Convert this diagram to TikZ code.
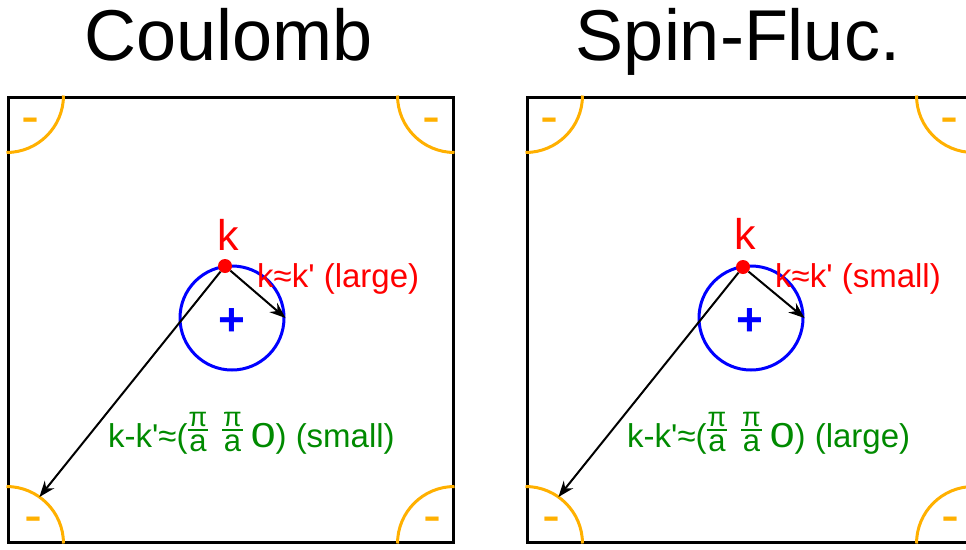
\documentclass[tikz,border=0pt]{standalone}
\usepackage{fontspec}
\setmainfont{Liberation Sans}
\usepackage{graphicx}
\usetikzlibrary{arrows.meta, positioning, calc}
\definecolor{fsorange}{HTML}{FFB000}
\definecolor{fsred}{HTML}{FF0000}
\definecolor{fsblue}{HTML}{0000FF}
\definecolor{fsgreen}{HTML}{008A00}
% pi over a, stacked by hand
\newcommand{\pia}{\raisebox{-4pt}{\vbox{\offinterlineskip\halign{\hskip1pt\hfil##\hfil\hskip1pt\cr
    \fontsize{27}{27}\selectfont π\cr
    \noalign{\kern3pt\hrule height 1.5pt\kern3.5pt}
    \fontsize{31}{31}\selectfont a\cr}}}}
\newcommand{\widezero}{\scalebox{1.35}[1.05]{0}}

\begin{document}
\begin{tikzpicture}[
        x=1pt, y=-1pt,
        title/.style={font=\fontsize{72}{72}\selectfont, inner sep=0pt, anchor=base},
        zone/.style={
            rectangle,
            draw=black,
            line width=3pt,
            minimum width=445pt,
            minimum height=445pt,
            inner sep=0pt
        },
        pocket/.style={draw=fsorange, line width=3pt},
        sign/.style={text=fsorange, font=\fontsize{54}{54}\selectfont, inner sep=0pt, anchor=base},
        fermi/.style={circle, draw=fsblue, line width=3pt, minimum size=104pt, inner sep=0pt},
        plus/.style={text=fsblue, font=\bfseries\fontsize{46}{46}\selectfont, inner sep=0pt, anchor=base},
        kpoint/.style={circle, fill=fsred, minimum size=14pt, inner sep=0pt},
        klabel/.style={text=fsred, font=\fontsize{43}{43}\selectfont, inner sep=0pt, anchor=base},
        nearq/.style={text=fsred, font=\fontsize{33}{33}\selectfont, inner sep=0pt, anchor=base west},
        farq/.style={text=fsgreen, font=\fontsize{33}{33}\selectfont, inner sep=0pt, anchor=base west},
        arrow/.style={-{Stealth[length=16pt, width=12pt]}, line width=2pt, draw=black}
    ]
        \useasboundingbox (0,0) rectangle (966,549);
        \clip (0,0) rectangle (966,549);

        % Coulomb panel
        \node[title] (ctitle) at (229,60) {Coulomb};
        \node[zone] (cbox) at (230.5,319.5) {};
        \draw[pocket] (cbox.north west) ++(57,0) arc[start angle=0, end angle=90, radius=57];
        \draw[pocket] (cbox.north east) ++(-57,0) arc[start angle=180, end angle=90, radius=57];
        \draw[pocket] (cbox.south west) ++(57,0) arc[start angle=0, end angle=-90, radius=57];
        \draw[pocket] (cbox.south east) ++(-57,0) arc[start angle=180, end angle=270, radius=57];
        \node[sign] (cmtl) at (30.5,134.3) {-};
        \node[sign] (cmtr) at (431,134.3) {-};
        \node[sign] (cmbl) at (33.5,533.3) {-};
        \node[sign] (cmbr) at (432,533.3) {-};
        \node[fermi] (cfermi) at (232,318) {};
        \node[plus] (cplus) at (232,335) {+};
        \node[kpoint] (ckpt) at (225,266) {};
        \node[klabel] (ck) at (228,250) {k};
        \coordinate (ctip) at ($(cbox.south west)+(-54.7:57)$);
        \draw[arrow] (ckpt) -- (cfermi.east);
        \draw[arrow] (ckpt) -- (ctip);
        \node[nearq] (cnear) at (257,287) {k≈k\textquotesingle{} (large)};
        \node[farq] (cfar) at (108,447) {k-k\textquotesingle≈(\pia\hspace{14pt}\pia\hspace{8pt}\widezero) (small)};

        % Spin-fluctuation panel
        \node[title] (stitle) at (738,60) {Spin-Fluc.};
        \node[zone] (sbox) at (749.5,319.5) {};
        \draw[pocket] (sbox.north west) ++(57,0) arc[start angle=0, end angle=90, radius=57];
        \draw[pocket] (sbox.north east) ++(-57,0) arc[start angle=180, end angle=90, radius=57];
        \draw[pocket] (sbox.south west) ++(57,0) arc[start angle=0, end angle=-90, radius=57];
        \draw[pocket] (sbox.south east) ++(-57,0) arc[start angle=180, end angle=270, radius=57];
        \node[sign] (smtl) at (549,134.3) {-};
        \node[sign] (smtr) at (949,134.3) {-};
        \node[sign] (smbl) at (551,533.3) {-};
        \node[sign] (smbr) at (950,533.3) {-};
        \node[fermi] (sfermi) at (751,318) {};
        \node[plus] (splus) at (750,335) {+};
        \node[kpoint] (skpt) at (743,267) {};
        \node[klabel] (sk) at (745,249) {k};
        \coordinate (stip) at ($(sbox.south west)+(-54.7:57)$);
        \draw[arrow] (skpt) -- (sfermi.east);
        \draw[arrow] (skpt) -- (stip);
        \node[nearq] (snear) at (775,287) {k≈k\textquotesingle{} (small)};
        \node[farq] (sfar) at (627,447) {k-k\textquotesingle≈(\pia\hspace{14pt}\pia\hspace{8pt}\widezero) (large)};
    \end{tikzpicture}
\end{document}
